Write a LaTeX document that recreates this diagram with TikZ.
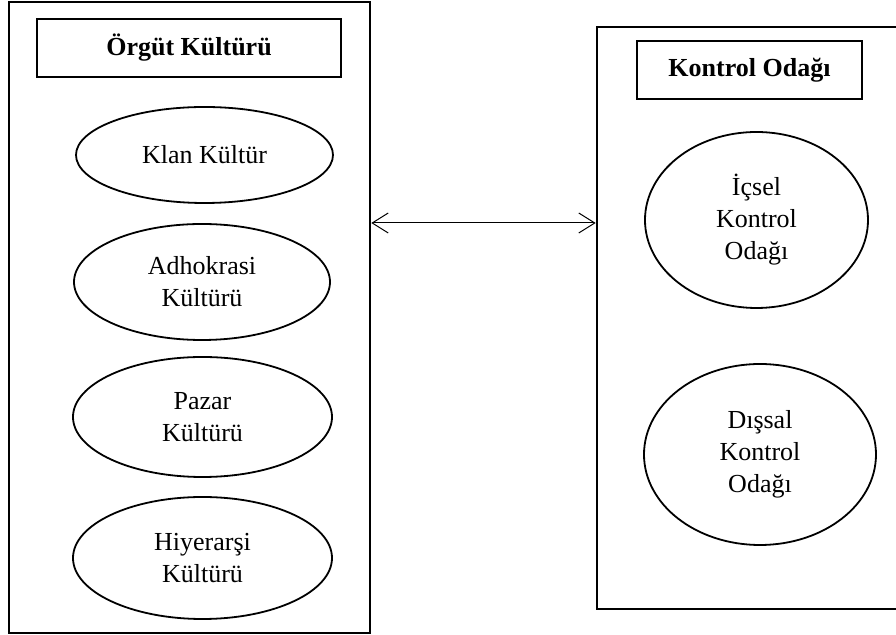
\documentclass[tikz,border=0pt]{standalone}
\usepackage{fontspec}
\setmainfont{Liberation Serif}
\usetikzlibrary{shapes.geometric,arrows.meta}

\tikzset{
  outerbox/.style={draw, line width=1.3pt, rectangle, inner sep=0pt},
  titlebox/.style={draw, line width=1.1pt, rectangle, inner sep=0pt,
    font=\fontsize{13}{16}\selectfont\bfseries},
  kindnode/.style={draw, line width=0.9pt, ellipse, inner sep=0pt, align=center,
    font=\fontsize{13}{16}\selectfont},
}

\begin{document}
\begin{tikzpicture}[x=0.5pt,y=-0.5pt]
    \useasboundingbox (0,0) rectangle (896,635);

    % Left group: organisational culture types.
    \node[outerbox, minimum width=180.5pt, minimum height=315.5pt]
      (culturebox) at (189.5,317.5) {};
    \node[titlebox, minimum width=152pt, minimum height=29pt]
      (culturetitle) at (189,48) {Örgüt Kültürü};

    \foreach \nodename/\cx/\cy/\w/\h/\label in {
      klan/204.5/155/128.5/48/{Klan Kültür},
      adhokrasi/202/282/128/58/{Adhokrasi\\Kültürü},
      pazar/202.5/417/129.5/60/{Pazar\\Kültürü},
      hiyerarsi/202.5/558/129.5/61/{Hiyerarşi\\Kültürü}} {
      \node[kindnode, minimum width=\w pt, minimum height=\h pt]
        (\nodename) at (\cx,\cy) {\label};
    }

    % Right group: locus of control.
    \node[outerbox, minimum width=154pt, minimum height=291pt]
      (locusbox) at (751,318) {};
    \node[titlebox, minimum width=112.5pt, minimum height=29pt]
      (locustitle) at (749.5,70) {Kontrol Odağı};

    \node[kindnode, minimum width=111.5pt, minimum height=88pt]
      (icsel) at (756.5,220) {İçsel\\Kontrol\\Odağı};
    \node[kindnode, minimum width=116pt, minimum height=90.5pt]
      (dissal) at (760,454.5) {Dışsal\\Kontrol\\Odağı};

    % Two-way relation between the groups.
    \coordinate (linkrow) at (0,223);
    \draw[{Straight Barb[length=8pt,width=10pt]}-{Straight Barb[length=8pt,width=10pt]},
      line width=0.5pt]
      (culturebox.east |- linkrow) -- (locusbox.west |- linkrow);
\end{tikzpicture}
\end{document}
